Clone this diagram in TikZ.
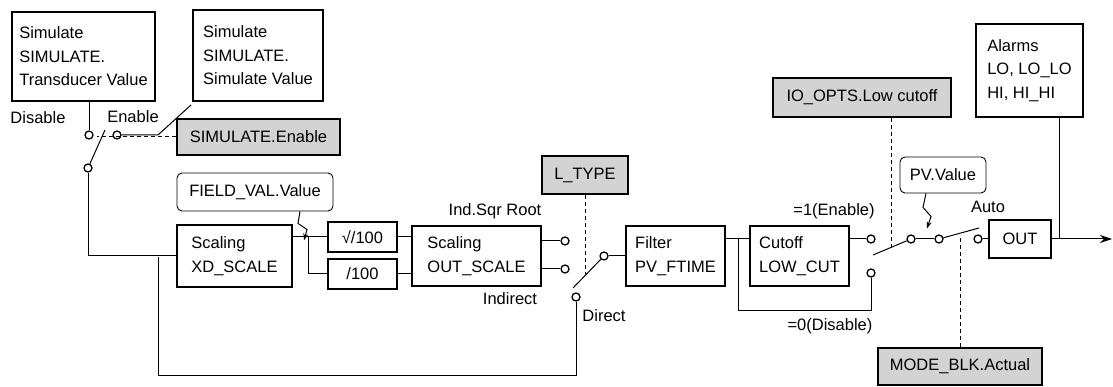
\documentclass[tikz,border=0pt]{standalone}
\usepackage{fontspec}
\setmainfont{Liberation Sans}
\usetikzlibrary{arrows.meta}
\definecolor{panelgray}{RGB}{211,211,211}

\begin{document}
\begin{tikzpicture}[
  blk/.style={draw,line width=1.8pt,align=left,inner sep=0pt},
  parm/.style={blk,fill=panelgray},
  note/.style={draw,line width=0.9pt,rounded corners=5pt,inner sep=0pt},
  term/.style={circle,draw,line width=1.3pt,fill=white,inner sep=0pt,minimum size=8pt},
  wire/.style={line width=1pt},
  dashwire/.style={line width=1pt,dash pattern=on 4pt off 3pt},
  bolt/.style={line width=1pt,-{Stealth[length=7pt,width=5pt]}},
  every node/.style={font=\fontsize{16.5}{23.5}\selectfont},
  x=1pt,y=-1pt
]
  \useasboundingbox (0,0) rectangle (1113,387);
  % boxes
  \node[blk,minimum width=143pt,minimum height=89pt] (simtrans) at (83.5,56.5) {Simulate\\SIMULATE.\\Transducer Value};
  \node[blk,minimum width=130pt,minimum height=91pt] (simval) at (258,55.5) {Simulate\\SIMULATE.\\Simulate Value};
  \node[parm,minimum width=163pt,minimum height=36pt] (simen) at (258.5,137) {SIMULATE.Enable};
  \node[note,minimum width=156pt,minimum height=38pt] (fieldval) at (255,192) {FIELD\_VAL.Value};
  \node[blk,minimum width=115pt,minimum height=62pt] (xdscale) at (234.5,256) {Scaling\\XD\_SCALE};
  \node[blk,minimum width=69pt,minimum height=30pt] (sqrtbox) at (362.5,237) {√/100};
  \node[blk,minimum width=69pt,minimum height=30pt] (divbox) at (362.5,274) {/100};
  \node[blk,minimum width=129pt,minimum height=60pt] (outscale) at (476.5,256) {Scaling\\OUT\_SCALE};
  \node[parm,minimum width=86pt,minimum height=38pt] (ltype) at (585,175) {L\_TYPE};
  \node[blk,minimum width=99pt,minimum height=60pt] (filter) at (675.5,256) {Filter\\PV\_FTIME};
  \node[blk,minimum width=99pt,minimum height=60pt] (cutoff) at (799.5,256) {Cutoff\\LOW\_CUT};
  \node[parm,minimum width=178pt,minimum height=39pt] (iolow) at (862,97.5) {IO\_OPTS.Low cutoff};
  \node[note,minimum width=86pt,minimum height=36pt] (pvval) at (943,175) {PV.Value};
  \node[blk,minimum width=107pt,minimum height=93pt] (alarms) at (1029.5,70.5) {Alarms\\LO, LO\_LO\\HI, HI\_HI};
  \node[blk,minimum width=62pt,minimum height=38pt] (outblk) at (1020,239) {OUT};
  \node[parm,minimum width=164pt,minimum height=37pt] (modeblk) at (960,366.5) {MODE\_BLK.Actual};

  % contacts
  \foreach \n/\x/\y in {cdis/89/135,cen/117/135,csim/88/168,cind1/565/241,cind2/565/269,
      cdir/576/297,cfil/604/256,ccut1/871/239,ccut0/871/273,cpv1/911/239,cpv2/939/239,cout/978/239}
    \node[term] (\n) at (\x,\y) {};

  % labels
  \node (ldis) at (38,118) {Disable};
  \node (len) at (133,117) {Enable};
  \node (lsqr) at (495,211) {Ind.Sqr Root};
  \node (lind) at (510,299) {Indirect};
  \node (ldir) at (604,316) {Direct};
  \node (lon) at (834,211) {=1(Enable)};
  \node (loff) at (830,326) {=0(Disable)};
  \node (lauto) at (988,207) {Auto};

  % free ends
  \coordinate (armA) at (105,130);
  \coordinate (tapA) at (158,257);
  \coordinate (tapB) at (308,237);
  \coordinate (armB) at (573,288);
  \coordinate (tapC) at (738,239);
  \coordinate (armC) at (873,255);
  \coordinate (armD) at (979,228);
  \coordinate (tapD) at (1059,239);
  \coordinate (outend) at (1112,239);

  % simulate switch
  \draw[wire] (cdis |- simtrans.south) -- (cdis);
  \draw[wire] (cen) -- ++(41,0) -- ([shift={(-1,3)}]simval.south west);
  \draw[wire] (csim) -- (armA);
  \draw[dashwire] (simen.west) -- ++(-79,0);
  \draw[wire] (csim) |- (xdscale.west);
  \draw[wire] (tapA) -- ++(0,118) -| (cdir);

  % scaling chain
  \draw[wire] (xdscale.east |- sqrtbox.west) -- (sqrtbox.west);
  \draw[wire] (tapB) |- (divbox.west);
  \draw[bolt] ([xshift=45pt]fieldval.south) -- ++(-2,12) -- ++(9,6) -- ++(-3,11);
  \draw[wire] (sqrtbox.east) -- (outscale.west |- sqrtbox.east);
  \draw[wire] (divbox.east) -- (outscale.west |- divbox.east);
  \draw[wire] (outscale.east |- cind1) -- (cind1);
  \draw[wire] (outscale.east |- cind2) -- (cind2);

  % L_TYPE switch
  \draw[dashwire] (ltype.south) -- ++(0,79);
  \draw[wire] (armB) -- (cfil);
  \draw[wire] (cfil) -- (filter.west |- cfil);

  % cutoff
  \draw[wire] (filter.east |- ccut1) -- (cutoff.west |- ccut1);
  \draw[wire] (tapC) -- ++(0,71) -| (ccut0);
  \draw[wire] (cutoff.east |- ccut1) -- (ccut1);
  \draw[dashwire] ([xshift=29pt]iolow.south) -- ++(0,130);
  \draw[wire] (armC) -- (cpv1);
  \draw[wire] (cpv1) -- (cpv2);
  \draw[bolt] ([xshift=-17pt]pvval.south) -- ++(-3,14) -- ++(8,9) -- ++(-4,12);

  % mode switch and output
  \draw[wire] (cpv2) -- (armD);
  \draw[dashwire] (modeblk.north) -- ++(0,-112);
  \draw[wire] (cout) -- (outblk.west);
  \draw[wire,-{Stealth[length=12pt,width=8pt]}] (outblk.east) -- (outend);
  \draw[wire] (tapD |- alarms.south) -- (tapD);
\end{tikzpicture}
\end{document}
